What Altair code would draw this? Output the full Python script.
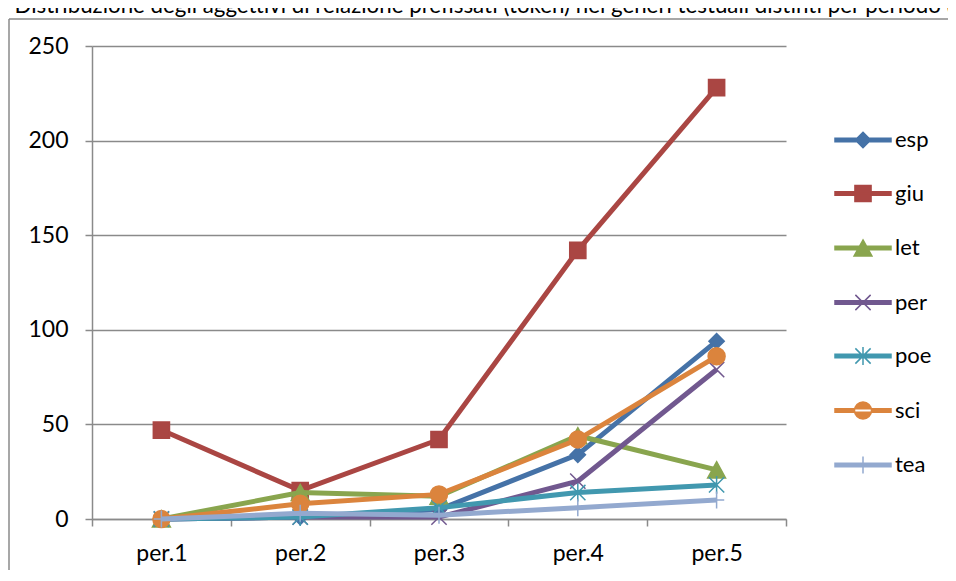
import altair as alt
import pandas as pd

# ---------------- data ----------------
periods = ["per.1", "per.2", "per.3", "per.4", "per.5"]
series = ["esp", "giu", "let", "per", "poe", "sci", "tea"]
esp = [0, 1, 5, 34, 94]
giu = [47, 15, 42, 142, 228]
let_ = [0, 14, 12, 44, 26]
per = [0, 1, 1, 20, 79]
poe = [0, 1, 6, 14, 18]
sci = [0, 8, 13, 42, 86]
tea = [0, 3, 2, 6, 10]
y_ticks = [0, 50, 100, 150, 200, 250]
title_text = (". Distribuzione degli aggettivi di relazione prefissati (token) "
              "nei generi testuali distinti per periodo (")

# ---------------- style ----------------
colors = ["#4572A7", "#AA4643", "#89A54E", "#71588F", "#4198AF", "#DB843D", "#93A9CF"]
kinds = ["diamond", "square", "triangle", "x", "star", "circle", "plus"]
GRAY = "#8a8a8a"
FONT = "Lato"


def f(v):
    return f"{v:.3f}"


def marker_path(kind, k):
    if kind == "diamond":
        a = 0.9 * k
        return f"M0,{f(-a)}L{f(a)},0L0,{f(a)}L{f(-a)},0Z"
    if kind == "square":
        a = 0.95 * k
        return f"M{f(-a)},{f(-a)}H{f(a)}V{f(a)}H{f(-a)}Z"
    if kind == "triangle":
        h = 0.95 * k
        w = 1.05 * k
        return f"M0,{f(-h)}L{f(w)},{f(h)}H{f(-w)}Z"
    if kind == "x":
        a = 0.9 * k
        return f"M{f(-a)},{f(-a)}L{f(a)},{f(a)}M{f(-a)},{f(a)}L{f(a)},{f(-a)}"
    if kind == "star":
        a = 0.9 * k
        b = 1.05 * k
        return (f"M{f(-a)},{f(-a)}L{f(a)},{f(a)}M{f(-a)},{f(a)}L{f(a)},{f(-a)}"
                f"M0,{f(-b)}V{f(b)}")
    if kind == "circle":
        r = 1.0 * k
        return (f"M{f(-r)},0A{f(r)},{f(r)},0,1,0,{f(r)},0"
                f"A{f(r)},{f(r)},0,1,0,{f(-r)},0Z")
    if kind == "plus":
        a = 0.9 * k
        b = 1.0 * k
        return f"M{f(-a)},0H{f(a)}M0,{f(-b)}V{f(b)}"


MARK_SIZE = 289          # 17 px box -> 8.5 px per path unit
LEG_SIZE = 3136          # 56 px box -> 28 px per path unit
chart_paths = [marker_path(k, 1.0) for k in kinds]
leg_k = 8.5 / 28.0
leg_line = "M-1,-0.06H1V0.06H-1Z"
legend_paths = [leg_line + marker_path(k, leg_k) for k in kinds]

df = pd.DataFrame([
    {"period": p, "series": s, "value": v}
    for s, vals in zip(series, [esp, giu, let_, per, poe, sci, tea])
    for p, v in zip(periods, vals)
])

x_enc = alt.X(
    "period:N", sort=periods,
    scale=alt.Scale(type="band", domain=periods, paddingInner=0, paddingOuter=0),
    axis=alt.Axis(title=None, labelAngle=0, tickBand="extent", tickSize=7,
                  tickColor=GRAY, tickWidth=1.5, domainColor=GRAY, domainWidth=1.5,
                  labelFont=FONT, labelFontSize=23, labelColor="black",
                  labelPadding=16, labelBaseline="top", grid=False),
)
y_enc = alt.Y(
    "value:Q",
    scale=alt.Scale(domain=[0, 250], nice=False, zero=True),
    axis=alt.Axis(title=None, values=y_ticks, tickSize=7, tickColor=GRAY,
                  tickWidth=1.5, domainColor=GRAY, domainWidth=1.5,
                  gridColor=GRAY, gridWidth=1.5, grid=True,
                  labelFont=FONT, labelFontSize=23, labelColor="black",
                  labelPadding=17),
)

one = pd.DataFrame({"k": [0]})
frame_top = alt.Chart(one).mark_rule(color=GRAY, strokeWidth=1.5).encode(
    x=alt.value(-83), x2=alt.value(3000), y=alt.value(-27))
frame_left = alt.Chart(one).mark_rule(color=GRAY, strokeWidth=1.5).encode(
    x=alt.value(-83), y=alt.value(-27), y2=alt.value(3000))
title_mark = alt.Chart(pd.DataFrame({"t": [title_text]})).mark_text(
    font=FONT, fontSize=22.3, color="black", align="center", baseline="alphabetic"
).encode(text="t:N", x=alt.value(386), y=alt.value(-33))

layers = [frame_top, frame_left, title_mark]
for s, c, pth in zip(series, colors, chart_paths):
    sub = alt.Chart(df).transform_filter(alt.datum.series == s)
    layers.append(sub.mark_line(color=c, strokeWidth=5).encode(x=x_enc, y=y_enc))
    layers.append(sub.mark_point(shape=pth, size=MARK_SIZE, filled=True, fill=c,
                                 stroke=c, strokeWidth=1.5, opacity=1)
                  .encode(x=x_enc, y=y_enc))

leg = alt.Legend(orient="none", legendX=742, legendY=65, title=None,
                 symbolSize=LEG_SIZE, symbolStrokeWidth=1.5, symbolOpacity=1,
                 labelFont=FONT, labelFontSize=22, labelColor="black",
                 labelOffset=3, rowPadding=13.5, padding=0, labelLimit=0)

legend_layer = alt.Chart(df).mark_point(filled=True, opacity=0, strokeWidth=1.5).encode(
    x=x_enc, y=y_enc,
    shape=alt.Shape("series:N", scale=alt.Scale(domain=series, range=legend_paths), legend=leg),
    fill=alt.Fill("series:N", scale=alt.Scale(domain=series, range=colors), legend=leg),
    stroke=alt.Stroke("series:N", scale=alt.Scale(domain=series, range=colors), legend=leg),
)
layers.append(legend_layer)

chart = alt.layer(*layers).properties(
    width=694, height=473,
    autosize=alt.AutoSizeParams(type="none"),
    padding={"left": 84, "top": 38, "right": 162, "bottom": 51},
).configure_view(stroke="transparent")

chart.save("out.html", embed_options={"renderer": "svg", "actions": False})
